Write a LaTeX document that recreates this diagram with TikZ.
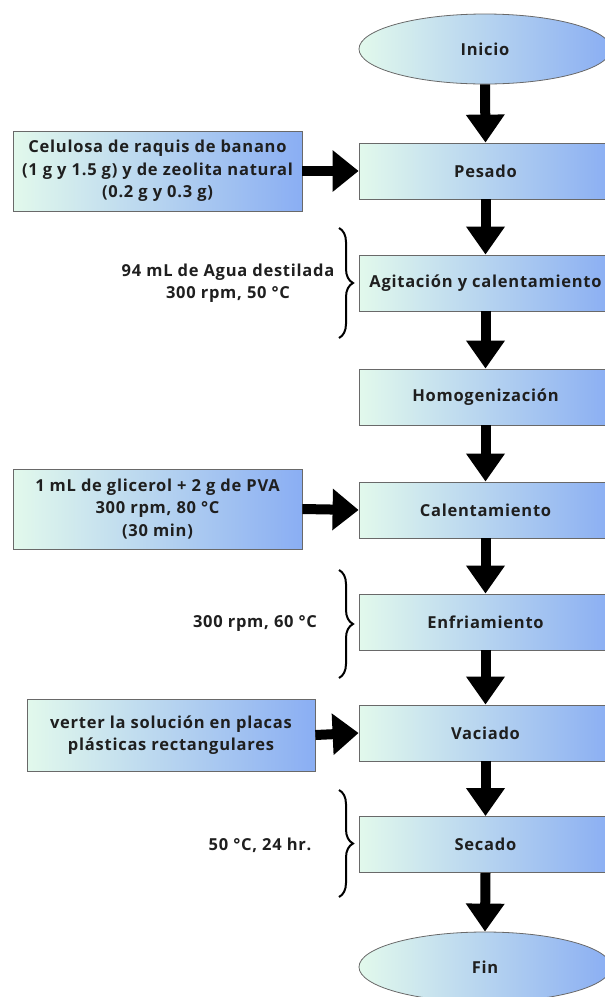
\documentclass[tikz,border=0pt]{standalone}
\usepackage{fontspec}
\setmainfont[LetterSpace=4.5]{Open Sans}
\usetikzlibrary{arrows.meta,shapes.geometric,decorations.pathreplacing}
\definecolor{gL}{RGB}{226,249,236}
\definecolor{gR}{RGB}{138,174,243}
\definecolor{bord}{RGB}{105,105,105}
\begin{document}
\begin{tikzpicture}[x=1pt,y=-1pt,
  every node/.style={font=\fontsize{16.5}{22.5}\selectfont\bfseries, text=black!88},
  grad/.style={draw=bord, line width=0.8pt, left color=gL, right color=gR},
  mainbox/.style={grad, rectangle, minimum width=253pt, minimum height=56pt, inner sep=0pt},
  sidebox/.style={grad, rectangle, minimum width=289pt, inner sep=0pt, align=center},
  term/.style={grad, ellipse, minimum width=252pt, minimum height=70pt, inner sep=0pt},
  varrow/.style={line width=10pt, -{Triangle[width=37pt,length=28pt]}},
  harrow/.style={line width=10pt, -{Triangle[width=40pt,length=26pt]}},
  bracedec/.style={decorate, decoration={brace, amplitude=14pt, aspect=0.5}, line width=2pt},
  note/.style={align=center}]
\useasboundingbox (0,0) rectangle (605,997);
\clip (0,0) rectangle (605,997);

\node[term] (inicio) at (485,49) {Inicio};
\node[mainbox] (pesado) at (485.5,171) {Pesado};
\node[mainbox] (agit) at (485.5,283) {Agitación y calentamiento};
\node[mainbox] (homo) at (485.5,397) {Homogenización};
\node[mainbox] (calen) at (485.5,510) {Calentamiento};
\node[mainbox] (enfri) at (485.5,622) {Enfriamiento};
\node[mainbox] (vaci) at (485.5,733) {Vaciado};
\node[mainbox] (seca) at (485.5,844.5) {Secado};
\node[term] (fin) at (485,967) {Fin};

\node[sidebox, minimum height=80pt] (celu) at (157.5,171) {Celulosa de raquis de banano\\(1 g y 1.5 g) y de zeolita natural\\(0.2 g y 0.3 g)};
\node[sidebox, minimum height=80pt] (glic) at (157.5,509) {1 mL de glicerol + 2 g de PVA\\300 rpm, 80 °C\\(30 min)};
\node[sidebox, minimum width=288pt, minimum height=72pt] (vert) at (171,735) {verter la solución en placas\\plásticas rectangulares};

\draw[varrow] (inicio.south) -- (pesado.north);
\draw[varrow] (pesado.south) -- (agit.north);
\draw[varrow] (agit.south) -- (homo.north);
\draw[varrow] (homo.south) -- (calen.north);
\draw[varrow] (calen.south) -- (enfri.north);
\draw[varrow] (enfri.south) -- (vaci.north);
\draw[varrow] (vaci.south) -- (seca.north);
\draw[varrow] (seca.south) -- (fin.north);

\draw[harrow] (celu.east) -- (pesado.west);
\draw[harrow] (glic.east) -- (calen.west);
\draw[harrow] (vert.east) -- (vaci.west);

\coordinate (b1t) at (339,228); \coordinate (b1b) at (339,338);
\coordinate (b2t) at (339,570); \coordinate (b2b) at (339,678);
\coordinate (b3t) at (339,790); \coordinate (b3b) at (339,897);
\draw[bracedec] (b1t) -- (b1b);
\draw[bracedec] (b2t) -- (b2b);
\draw[bracedec] (b3t) -- (b3b);

\node[note] (n1) at (228,283) {94 mL de Agua destilada\\300 rpm, 50 °C};
\node[note] (n2) at (255,623) {300 rpm, 60 °C};
\node[note] (n3) at (260,845) {50 °C, 24 hr.};
\end{tikzpicture}
\end{document}
